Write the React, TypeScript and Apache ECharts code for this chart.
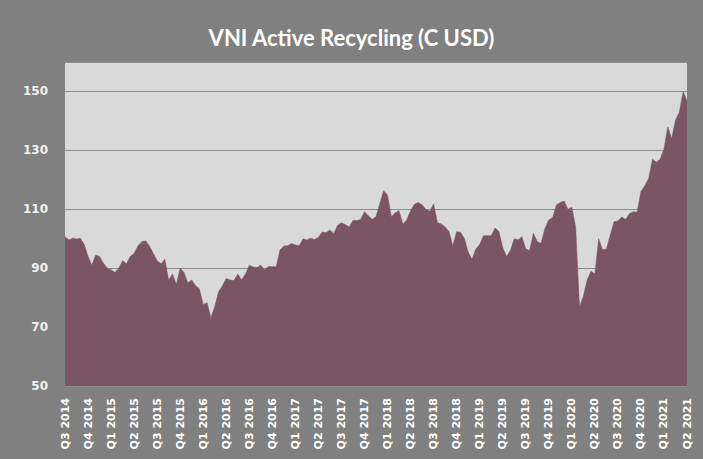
import React, { useEffect, useRef } from "react";
import * as echarts from "echarts";

const TITLE = "VNI Active Recycling (C USD)";

const quarterLabels = [
  "Q3 2014", "Q4 2014", "Q1 2015", "Q2 2015", "Q3 2015", "Q4 2015", "Q1 2016",
  "Q2 2016", "Q3 2016", "Q4 2016", "Q1 2017", "Q2 2017", "Q3 2017", "Q4 2017",
  "Q1 2018", "Q2 2018", "Q3 2018", "Q4 2018", "Q1 2019", "Q2 2019", "Q3 2019",
  "Q4 2019", "Q1 2020", "Q2 2020", "Q3 2020", "Q4 2020", "Q1 2021", "Q2 2021",
];

// six readings per quarter (about every two weeks)
const values2014to2015 = [
  100.7, 99.6, 100.2, 99.9, 100.2, 98, 94, 91, 94.5, 94, 91.7, 90, 89.5, 88.5,
  90, 92.5, 91.5, 94, 95, 97.5, 99, 99.3, 97.5, 95, 92.5, 91.5, 93, 86,
];
const values2015to2016 = [
  88, 84.5, 90, 88.5, 85, 86, 84, 83, 77.6, 78.3, 73.2, 77, 82, 84, 86.5, 86,
  85.8, 88, 86, 88, 91, 90.4, 90.2, 91, 89.5, 90.6, 90.5,
];
const values2016to2017 = [
  90.5, 96.2, 97.5, 97.6, 98.4, 97.9, 97.6, 100, 99.6, 100.2, 99.7, 100.5, 102.3,
  102, 103, 101.8, 104.5, 105.4, 104.8, 104, 106.2, 106.2, 106.5, 109.2, 107.8,
  106.6, 107.5, 112,
];
const values2018 = [
  116.3, 114.8, 107.5, 108.8, 109.5, 105, 106.4, 109.5, 111.7, 112.3, 111.5, 110,
  109.3, 111.8, 105.5, 105, 104, 102.5, 97.5, 102.4, 102.2, 100.2, 95.5, 93,
  96.5, 98, 101,
];
const values2019to2020 = [
  101, 101, 103.6, 102.5, 97, 94, 96, 100, 99.6, 100.7, 96.5, 96, 101.9, 99,
  98.5, 103.5, 106.4, 107.2, 111.5, 112.3, 112.8, 110, 110.7, 104, 77, 80.5, 86,
  89,
];
const values2020to2021 = [
  88, 100, 96.3, 96.5, 101.2, 105.8, 106, 107.4, 106.5, 108.5, 109.2, 109, 116,
  118, 120.4, 127, 126, 127, 130.5, 138, 134, 140.2, 143, 150, 146.8,
];

const yTicks = { min: 50, max: 160, interval: 20 };

const values = [
  ...values2014to2015,
  ...values2015to2016,
  ...values2016to2017,
  ...values2018,
  ...values2019to2020,
  ...values2020to2021,
];
const PER_QUARTER = 6;
const xData = values.map((_, i) =>
  i % PER_QUARTER === 0 ? quarterLabels[i / PER_QUARTER] ?? "" : ""
);

export default function App() {
  const ref = useRef<HTMLDivElement>(null);
  useEffect(() => {
    if (!ref.current) return;
    const chart = echarts.init(ref.current, null, { renderer: "svg" });
    chart.setOption({
      animation: false,
      backgroundColor: "#808080",
      title: {
        text: TITLE,
        left: "center",
        top: 21,
        textStyle: {
          color: "#ffffff",
          fontSize: 22,
          fontWeight: "bold",
          fontFamily: "Lato",
        },
      },
      grid: {
        left: 65,
        right: 16,
        top: 62,
        bottom: 73,
        show: true,
        backgroundColor: "#d9d9d9",
        borderWidth: 0,
      },
      xAxis: {
        type: "category",
        data: xData,
        boundaryGap: false,
        axisLine: { show: false },
        axisTick: { show: false },
        axisLabel: {
          interval: PER_QUARTER - 1,
          rotate: 90,
          margin: 12,
          color: "#ffffff",
          fontSize: 11,
          fontWeight: "bold",
          fontFamily: "DejaVu Sans",
        },
        splitLine: { show: false },
      },
      yAxis: {
        type: "value",
        min: yTicks.min,
        max: yTicks.max,
        interval: yTicks.interval,
        axisLine: { show: false },
        axisTick: { show: false },
        axisLabel: {
          showMaxLabel: false,
          margin: 17,
          color: "#f2f2f2",
          fontSize: 12,
          fontWeight: "bold",
          fontFamily: "DejaVu Sans",
        },
        splitLine: { show: true, lineStyle: { color: "#8c8c8c", width: 1 } },
      },
      series: [
        {
          type: "line",
          data: values,
          symbol: "none",
          lineStyle: { width: 0.5, color: "#7b5563" },
          areaStyle: { color: "#7b5563", opacity: 1 },
          itemStyle: { color: "#7b5563" },
        },
      ],
    });
    return () => chart.dispose();
  }, []);
  return (
    <div
      ref={ref}
      style={{ position: "fixed", left: 0, top: 0, width: 703, height: 459 }}
    />
  );
}
